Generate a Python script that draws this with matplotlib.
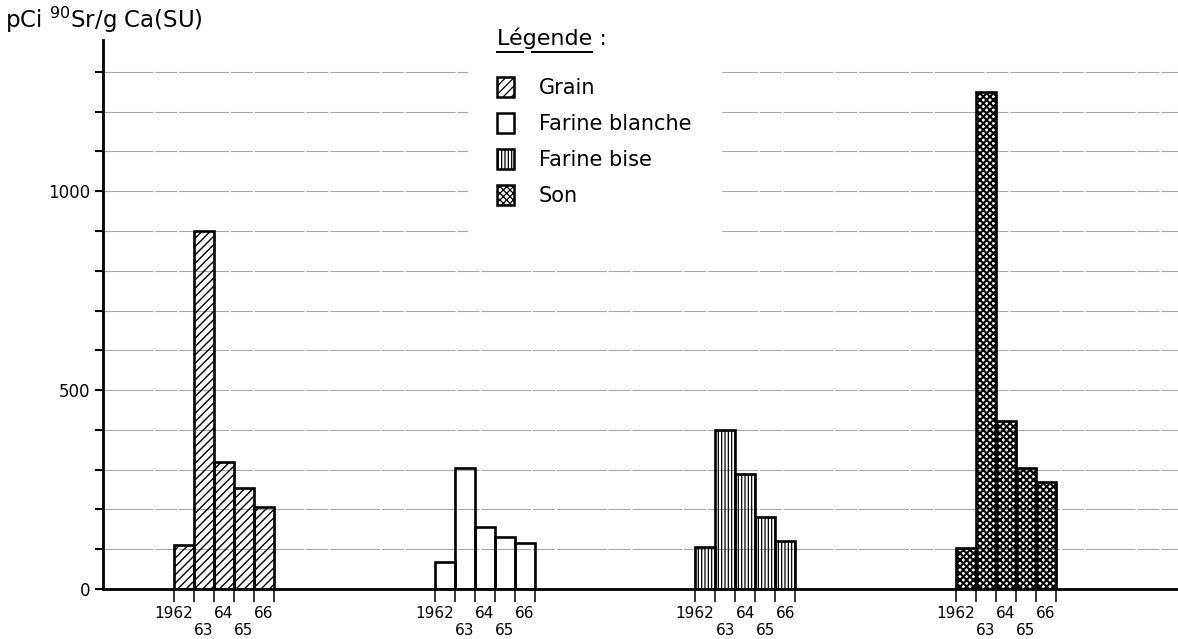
import matplotlib.pyplot as plt
from matplotlib.patches import Patch, Rectangle
from matplotlib.ticker import FixedLocator, MultipleLocator

plt.rcParams['font.family'] = ['DejaVu Sans']
plt.rcParams['hatch.linewidth'] = 0.9

# data (pCi 90Sr / g Ca)
years = ['1962', '63', '64', '65', '66']
products = ['Grain', 'Farine blanche', 'Farine bise', 'Son']
grain = [110, 900, 320, 255, 205]
farine_blanche = [68, 305, 155, 130, 115]
farine_bise = [105, 400, 290, 180, 120]
son = [102, 1250, 423, 305, 270]
hatches = ['////', '', '|||||', 'xxxxx']
hatch_lw = [1.0, 1.0, 0.9, 1.5]

series = [grain, farine_blanche, farine_bise, son]

W, H = 1178, 639
fig = plt.figure(figsize=(W / 100, H / 100), dpi=100)
ax = fig.add_axes([103 / W, 1 - 589 / H, 1 - 103 / W, (589 - 40) / H])
ax.set_xlim(0, 53.75)
ax.set_ylim(0, 1380)

# grid, broken where the legend sits
for v in range(100, 1400, 100):
    ax.axhline(v, color='#a8a8a8', lw=0.8, ls=(0, (45, 1.5, 20, 1.5)), zorder=1)
ax.add_patch(Rectangle((18.25, 852), 12.7, 600, facecolor='white',
                       edgecolor='none', zorder=1.5))

edges = []
for g, vals in enumerate(series):
    start = 3.55 + 13.03 * g
    xs = [start + 0.5 + j for j in range(len(vals))]
    bars = ax.bar(xs, vals, width=1.0, facecolor='none', edgecolor='black',
                  hatch=hatches[g], linewidth=1.9, zorder=3)
    for b in bars:
        if hasattr(b, 'set_hatch_linewidth'):
            b.set_hatch_linewidth(hatch_lw[g])
    edges += [start + k for k in range(len(vals) + 1)]
    for j, yr in enumerate(years):
        if j == 0:
            x, ha, dy = start + 0.95, 'right', -18
        elif j % 2 == 1:
            x, ha, dy = xs[j], 'center', -30
        else:
            x, ha, dy = xs[j], 'center', -18
        ax.annotate(yr, (x, 0), xycoords=('data', 'axes fraction'),
                    xytext=(0, dy), textcoords='offset points',
                    ha=ha, va='center', fontsize=11)

ax.set_xticks(edges)
ax.set_xticklabels([])
ax.tick_params(axis='x', direction='out', length=9, width=1.1)

ax.yaxis.set_major_locator(FixedLocator([0, 500, 1000]))
ax.yaxis.set_minor_locator(MultipleLocator(100))
ax.tick_params(axis='y', which='both', direction='out', length=6,
               width=1.5, labelsize=12, pad=3)

for s in ['top', 'right']:
    ax.spines[s].set_visible(False)
ax.spines['left'].set_linewidth(2)
ax.spines['bottom'].set_linewidth(2)

fig.text(5 / W, 1 - 28 / H, r'pCi $^{90}$Sr/g Ca(SU)', fontsize=16.5,
         va='baseline')

# legend with underlined title
handles = []
for h, hl in zip(hatches, hatch_lw):
    p = Patch(facecolor='white', edgecolor='black', hatch=h, lw=1.8)
    if hasattr(p, 'set_hatch_linewidth'):
        p.set_hatch_linewidth(hl)
    handles.append(p)
leg = ax.legend(handles, products, loc='upper left',
                bbox_to_anchor=(497 / W, 1 - 77 / H),
                bbox_transform=fig.transFigure, frameon=False, fontsize=15,
                handlelength=0.8, handleheight=1.1, handletextpad=1.2,
                labelspacing=0.72, borderpad=0, borderaxespad=0)
leg.set_zorder(5)

tx, ty = 497 / W, 1 - 45 / H
title = fig.text(tx, ty, 'Légende :', fontsize=16, va='baseline')
r = fig.canvas.get_renderer()


def width_of(s):
    t = fig.text(tx, ty, s, fontsize=16, va='baseline')
    w = t.get_window_extent(r).width / W
    t.remove()
    return w


w_le, w_leg, w_word = width_of('Lé'), width_of('Lég'), width_of('Légende')
uy = 1 - 52 / H
fig.add_artist(plt.Line2D([tx, tx + w_le], [uy, uy], color='black', lw=1.4))
fig.add_artist(plt.Line2D([tx + w_leg - 0.35 * (w_leg - w_le), tx + w_word],
                          [uy, uy], color='black', lw=1.4))

fig.savefig('out.png', dpi=100)
